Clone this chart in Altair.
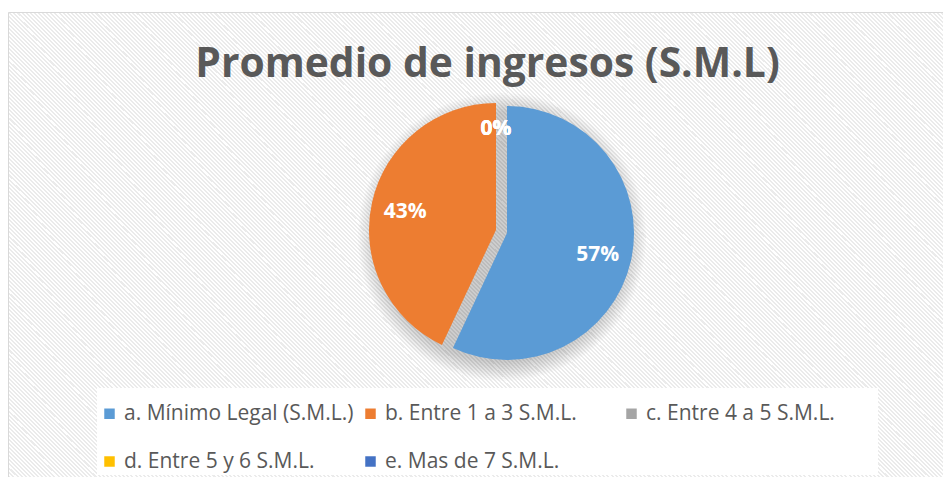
import math
import altair as alt
import pandas as pd

# ---- data ----
categories = [
    "a. Mínimo Legal (S.M.L.)",
    "b. Entre 1 a 3 S.M.L.",
    "c. Entre 4 a 5 S.M.L.",
    "d. Entre 5 y 6 S.M.L.",
    "e. Mas de 7 S.M.L.",
]
values = [57, 43, 0, 0, 0]
colors = ["#5B9BD5", "#ED7D31", "#A5A5A5", "#FFC000", "#4472C4"]
title_text = "Promedio de ingresos (S.M.L)"

df = pd.DataFrame({"cat": categories, "value": values, "order": list(range(len(categories)))})

FONT = "Open Sans"
TXT = "#595959"
TWO_PI = 2 * math.pi

# ---- striped background fill (style only) ----
W, H = 999.5, 515.5
period = 2.9
extent = (W + H) / math.sqrt(2)
N = int(extent / period)
k = H / W
s = (1 + k) / (1 + k * k)
stops = []
for i in range(N):
    a = i / N
    b = (i + 0.5) / N
    c = (i + 1) / N
    stops += [
        alt.GradientStop(offset=a, color="#ffffff"),
        alt.GradientStop(offset=b, color="#ffffff"),
        alt.GradientStop(offset=b, color="#ebebeb"),
        alt.GradientStop(offset=c, color="#ebebeb"),
    ]
grad = alt.LinearGradient(gradient="linear", stops=stops, x1=0, y1=1, x2=s, y2=1 - s * k)

one = alt.Data(values=[{"k": 1}])

bg = alt.Chart(one).mark_rect(fill=grad, stroke="#d9d9d9", strokeWidth=1).encode(
    x=alt.value(0.5), x2=alt.value(W), y=alt.value(4.5), y2=alt.value(H)
)
legend_box = alt.Chart(one).mark_rect(fill="white").encode(
    x=alt.value(89), x2=alt.value(870), y=alt.value(380), y2=alt.value(467)
)

shadows = [
    alt.Chart(one).mark_arc(theta=0, theta2=TWO_PI, radius=r, fill="black", opacity=0.018).encode(
        x=alt.value(494), y=alt.value(229)
    )
    for r in [126, 128, 130, 132, 134, 136, 138, 140, 142, 144]
]

theta_scale = alt.Scale(domain=[0, 100], range=[0, TWO_PI])

base = (
    alt.Chart(df)
    .transform_window(cum="sum(value)", sort=[alt.SortField("order")], frame=[None, 0])
    .transform_calculate(
        start="datum.cum - datum.value",
        end="datum.cum",
        mid="datum.cum - datum.value / 2",
        label="datum.value + '%'",
    )
)

color_enc = alt.Color(
    "cat:N",
    scale=alt.Scale(domain=categories, range=colors),
    legend=alt.Legend(
        orient="none",
        legendX=91,
        legendY=395,
        columns=3,
        direction="horizontal",
        title=None,
        symbolType="square",
        symbolSize=110,
        symbolStrokeWidth=0,
        labelFont=FONT,
        labelFontSize=21,
        labelColor=TXT,
        labelOffset=4,
        labelLimit=400,
        columnPadding=6,
        rowPadding=26,
        gridAlign="all",
        padding=0,
    ),
)


def arc_layer(filt, cx, cy):
    return base.transform_filter(filt).mark_arc(radius=127).encode(
        theta=alt.Theta("start:Q", scale=theta_scale, stack=None),
        theta2=alt.Theta2("end:Q"),
        color=color_enc,
        x=alt.value(cx),
        y=alt.value(cy),
    )


def label_layer(filt, cx, cy, r):
    return base.transform_filter(filt).mark_text(
        radius=r, font=FONT, fontWeight="bold", fontSize=21, color="white",
        align="center", baseline="middle", dy=2,
    ).encode(
        theta=alt.Theta("mid:Q", scale=theta_scale, stack=None),
        text="label:N",
        x=alt.value(cx),
        y=alt.value(cy),
    )


blue_c = (499, 225)
orange_c = (488, 222)

arc_a = arc_layer("datum.order == 0", *blue_c)
arc_rest = arc_layer("datum.order > 0", *orange_c)
lab_a = label_layer("datum.order == 0", *blue_c, 93)
lab_b = label_layer("datum.order == 1", *orange_c, 93)
lab_zero = label_layer("datum.order > 1", *orange_c, 103)

title = alt.Chart(one).mark_text(
    text=title_text, font=FONT, fontWeight="bold", fontSize=40.8, color=TXT,
    align="center", baseline="alphabetic",
).encode(x=alt.value(479.5), y=alt.value(69))

chart = (
    alt.layer(bg, legend_box, *shadows, arc_a, arc_rest, lab_a, lab_b, lab_zero, title)
    .properties(width=935, height=469, autosize="none", padding=0, background="white")
    .configure_view(stroke=None)
)

chart.save("out.html", embed_options={"renderer": "svg", "actions": False})
